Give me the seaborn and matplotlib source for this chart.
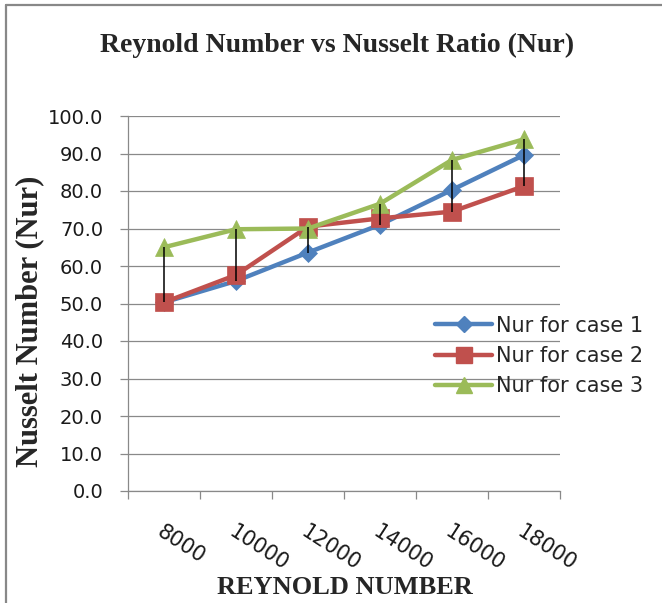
import matplotlib
matplotlib.use("Agg")
import matplotlib.pyplot as plt
import seaborn as sns
import pandas as pd
import numpy as np
from matplotlib.lines import Line2D

# -----------------------------
# Data
# -----------------------------
reynolds = ["8000", "10000", "12000", "14000", "16000", "18000"]
nur_case1 = [50.3, 56.0, 63.6, 71.0, 80.3, 89.6]
nur_case2 = [50.3, 57.6, 70.5, 72.7, 74.5, 81.3]
nur_case3 = [65.0, 69.8, 70.0, 76.6, 88.3, 93.8]
series_names = ["Nur for case 1", "Nur for case 2", "Nur for case 3"]
y_ticks = [0, 10, 20, 30, 40, 50, 60, 70, 80, 90, 100]
y_tick_labels = ["0.0", "10.0", "20.0", "30.0", "40.0", "50.0",
                 "60.0", "70.0", "80.0", "90.0", "100.0"]

pos = np.arange(len(reynolds))
df = pd.DataFrame({"pos": pos, "Re": reynolds,
                   series_names[0]: nur_case1,
                   series_names[1]: nur_case2,
                   series_names[2]: nur_case3})

# -----------------------------
# Style
# -----------------------------
sns.set_theme(style="white")
plt.rcParams["font.family"] = ["DejaVu Sans"]

colors = ["#4F81BD", "#C0504D", "#9BBB59"]
markers = ["D", "s", "^"]
msizes = [9.5, 13, 13]
grid_col = "#898989"

fig = plt.figure(figsize=(6.62, 6.03), dpi=100)
W, H = 662, 603
ax = fig.add_axes([128 / W, 1 - 491 / H, (560 - 128) / W, (491 - 116) / H])

# -----------------------------
# Lines
# -----------------------------
for name, c, m, ms in zip(series_names, colors, markers, msizes):
    sns.lineplot(data=df, x="pos", y=name, ax=ax, color=c, marker=m,
                 markersize=ms, markeredgecolor=c, markeredgewidth=0.5,
                 linewidth=3.2, label=name, zorder=3)

# high-low lines
vals = df[series_names].to_numpy()
ax.vlines(pos, vals.min(axis=1), vals.max(axis=1), color="black",
          linewidth=1.1, zorder=6)

# -----------------------------
# Axes
# -----------------------------
ax.set_xlim(-0.5, len(reynolds) - 0.5)
ax.set_ylim(0, 100)
ax.set_yticks(y_ticks)
ax.set_yticklabels(y_tick_labels, fontsize=14, color="#1a1a1a")
ax.yaxis.grid(True, color=grid_col, linewidth=0.9)
ax.set_axisbelow(True)

ax.set_xticks(np.arange(-0.5, len(reynolds)), labels=[""] * (len(reynolds) + 1))
ax.set_xticks(pos, minor=True)
ax.set_xticklabels(reynolds, minor=True, fontsize=15, color="#1a1a1a")
for lab in ax.get_xticklabels(minor=True):
    lab.set_rotation(-33)
    lab.set_rotation_mode("anchor")
    lab.set_ha("left")
    lab.set_va("top")

ax.tick_params(axis="y", which="major", direction="out", length=6,
               width=0.9, color=grid_col, pad=12, left=True)
ax.tick_params(axis="x", which="major", direction="out", length=6,
               width=0.9, color=grid_col, bottom=True)
ax.tick_params(axis="x", which="minor", length=0, pad=22)

for s in ["top", "right"]:
    ax.spines[s].set_visible(False)
for s in ["left", "bottom"]:
    ax.spines[s].set_color(grid_col)
    ax.spines[s].set_linewidth(0.9)

ax.set_xlabel("")
ax.set_ylabel("")

# -----------------------------
# Text
# -----------------------------
fig.text(337 / W, 1 - 45 / H, "Reynold Number vs Nusselt Ratio (Nur)",
         ha="center", va="center", fontsize=20, fontweight="bold",
         family="Liberation Serif")
fig.text(345 / W, 1 - 588 / H, "REYNOLD NUMBER", ha="center", va="center",
         fontsize=19, fontweight="bold", family="Liberation Serif")
fig.text(30 / W, 1 - 321 / H, "Nusselt Number (Nur)", ha="center",
         va="center", rotation=90, fontsize=22, fontweight="bold",
         family="Liberation Serif")

# legend
ax.get_legend().remove()
handles = [Line2D([], [], color=c, marker=m, markersize=ms * 0.85,
                  markeredgecolor=c, linewidth=3.2)
           for c, m, ms in zip(colors, markers, msizes)]
fig.legend(handles, series_names, loc="center left",
           bbox_to_anchor=(435 / W, 1 - 356 / H), frameon=False,
           fontsize=15, handlelength=2.75, handletextpad=0.2,
           labelspacing=0.5, borderpad=0, borderaxespad=0)

# outer chart border (left and top visible)
fig.add_artist(Line2D([6 / W, 6 / W], [0, 1 - 5 / H], color="#888888",
                      linewidth=1.6, transform=fig.transFigure))
fig.add_artist(Line2D([6 / W, 1], [1 - 5 / H, 1 - 5 / H], color="#888888",
                      linewidth=1.6, transform=fig.transFigure))

fig.savefig("out.png", dpi=100)
